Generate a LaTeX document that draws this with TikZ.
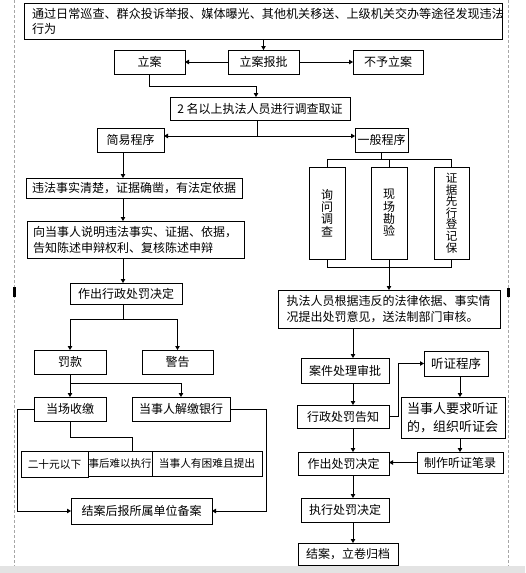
\documentclass[tikz,border=0pt]{standalone}
\usepackage{fontspec}
\setmainfont{Noto Sans CJK SC}
\usetikzlibrary{arrows.meta}
\newcommand\bx[7][]{\node[box,minimum width={(#5-#3)*1pt},minimum height={(#6-#4)*1pt},#1] (#2) at ({(#3+#5)/2},{(#4+#6)/2}) {#7};}
\begin{document}
\begin{tikzpicture}[x=1pt,y=-1pt,
 box/.style={draw,line width=0.8pt,inner sep=0pt,outer sep=0pt,align=center,font=\fontsize{12}{14}\selectfont},
 arr/.style={line width=0.8pt,-{Triangle[length=4pt,width=4.5pt]}},
 ln/.style={line width=0.8pt}]
\useasboundingbox (0,0) rectangle (525,573);
\fill[white] (0,0) rectangle (525,573);
\fill[gray!22] (0,566) rectangle (525,573);
\draw[gray!70,line width=0.6pt,dash pattern=on 3pt off 2pt] (14,0) -- (14,566) (508,0) -- (508,566);
\fill (13,287) rectangle (15.5,297);
\fill (507,288) rectangle (509.5,297);

\bx[align=left,text width=462pt,font=\fontsize{12.1}{15}\selectfont]{top}{24}{3}{502}{39}{通过日常巡查、群众投诉举报、媒体曝光、其他机关移送、上级机关交办等途径发现违法\\行为}
\bx{lian}{114}{50}{185}{74}{立案}
\bx{baopi}{228}{50}{299}{74}{立案报批}
\bx{buyu}{353}{50}{423}{74}{不予立案}
\bx{diaocha}{170}{97}{350}{120}{2 名以上执法人员进行调查取证}
\bx{jianyi}{97}{128}{164}{152}{简易程序}
\bx{yiban}{355}{128}{408}{152}{一般程序}
\bx[font=\fontsize{12}{12.4}\selectfont]{xunwen}{309}{167}{345}{259}{询\\问\\调\\查}
\bx[font=\fontsize{12}{12.4}\selectfont]{xianchang}{371}{167}{407}{259}{现\\场\\勘\\验}
\bx[font=\fontsize{11.5}{11.6}\selectfont]{zhengju}{434}{167}{469}{259}{证\\据\\先\\行\\登\\记\\保}
\bx[align=left,text width=205pt,font=\fontsize{12}{16}\selectfont]{zhifa}{278}{290}{500}{328}{执法人员根据违反的法律依据、事实情\\况提出处罚意见，送法制部门审核。}
\bx{weifa}{26}{178}{242}{198}{违法事实清楚，证据确凿，有法定依据}
\bx[align=left,text width=205pt,font=\fontsize{12}{16}\selectfont]{xiang}{27}{221}{244}{258}{向当事人说明违法事实、证据、依据，\\告知陈述申辩权利、复核陈述申辩}
\bx{zuochul}{70}{283}{182}{304}{作出行政处罚决定}
\bx{fakuan}{34}{350}{106}{374}{罚款}
\bx{jinggao}{142}{350}{213}{374}{警告}
\bx{dangchang}{34}{397}{106}{421}{当场收缴}
\bx{jiejiao}{132}{397}{230}{421}{当事人解缴银行}
\bx[font=\fontsize{10.7}{12}\selectfont]{ershi}{21}{451}{88}{477}{二十元以下}
\bx[font=\fontsize{10.5}{12}\selectfont]{shihou}{88}{451}{152}{476}{事后难以执行}
\bx[font=\fontsize{10.7}{12}\selectfont]{kunnan}{152}{451}{262}{476}{当事人有困难且提出}
\bx{beian}{71}{498}{212}{524}{结案后报所属单位备案}
\bx{anjian}{301}{358}{389}{383}{案件处理审批}
\bx{gaozhi}{297}{405}{389}{428}{行政处罚告知}
\bx{zuochur}{298}{452}{389}{475}{作出处罚决定}
\bx{zhixing}{301}{498}{389}{522}{执行处罚决定}
\bx{jiean}{298}{543}{398}{565}{结案，立卷归档}
\bx[font=\fontsize{12.5}{14}\selectfont]{tingzheng}{424}{351}{488}{376}{听证程序}
\bx[align=left,text width=92pt,font=\fontsize{13}{18}\selectfont]{yaoqiu}{401}{397}{505}{438}{当事人要求听证\\的，组织听证会}
\bx{bilu}{417}{452}{503}{473}{制作听证笔录}

% top part
\draw[arr] (top.south -| baopi.north) -- (baopi.north);
\draw[arr] (baopi.west) -- (lian.east);
\draw[arr] (baopi.east) -- (buyu.west);
\draw[arr] (lian.south) |- (256,86) -- (diaocha.north -| 256,0);
\coordinate (s1) at (257,136);
\draw[ln] (diaocha.south -| s1) -- (s1);
\draw[arr] (s1) -- (jianyi.east |- s1);
\draw[arr] (s1) -- (yiban.west |- s1);

% general procedure
\coordinate (b1) at (0,159);
\draw[ln] (yiban.south) -- (yiban.south |- b1);
\draw[ln] (xunwen.north) |- (zhengju.north |- b1) -- (zhengju.north);
\draw[ln] (xianchang.north) -- (xianchang.north |- b1);
\coordinate (b2) at (0,267);
\draw[ln] (xunwen.south) |- (zhengju.south |- b2) -- (zhengju.south);
\draw[ln] (xianchang.south) -- (xianchang.south |- b2);
\draw[arr] (xianchang.south |- b2) -- (zhifa.north -| xianchang.south);

% right chain
\draw[arr] (zhifa.south -| 353,0) -- (anjian.north -| 353,0);
\draw[arr] (anjian.south -| 353,0) -- (gaozhi.north -| 353,0);
\draw[arr] (gaozhi.south -| 353,0) -- (zuochur.north -| 353,0);
\draw[arr] (zuochur.south -| 353,0) -- (zhixing.north -| 353,0);
\draw[arr] (zhixing.south -| 353,0) -- (jiean.north -| 353,0);
\draw[arr] (gaozhi.east) -- (398,416.5) |- (tingzheng.west);
\draw[arr] (tingzheng.south -| 460,0) -- (yaoqiu.north -| 460,0);
\draw[arr] (yaoqiu.south -| 460,0) -- (bilu.north -| 460,0);
\draw[arr] (bilu.west) -- (zuochur.east |- bilu.west);

% left chain
\draw[arr] (jianyi.south -| 123,0) -- (weifa.north -| 123,0);
\draw[arr] (weifa.south -| 123,0) -- (xiang.north -| 123,0);
\draw[arr] (xiang.south -| 123,0) -- (zuochul.north -| 123,0);
\coordinate (s2) at (123,319);
\draw[ln] (zuochul.south -| s2) -- (s2);
\draw[arr] (s2) -| (fakuan.north);
\draw[arr] (s2) -| (jinggao.north);
\coordinate (s3) at (70,383);
\draw[ln] (fakuan.south) -- (s3);
\draw[arr] (s3) -- (dangchang.north);
\draw[arr] (s3) -| (jiejiao.north);
\draw[ln] (dangchang.south) |- (132,437) -- (shihou.north -| 132,0);
\draw[arr] (dangchang.west) -- (17,409) |- (beian.west);
\draw[arr] (jiejiao.east) -- (266,409) |- (beian.east);
\end{tikzpicture}
\end{document}
